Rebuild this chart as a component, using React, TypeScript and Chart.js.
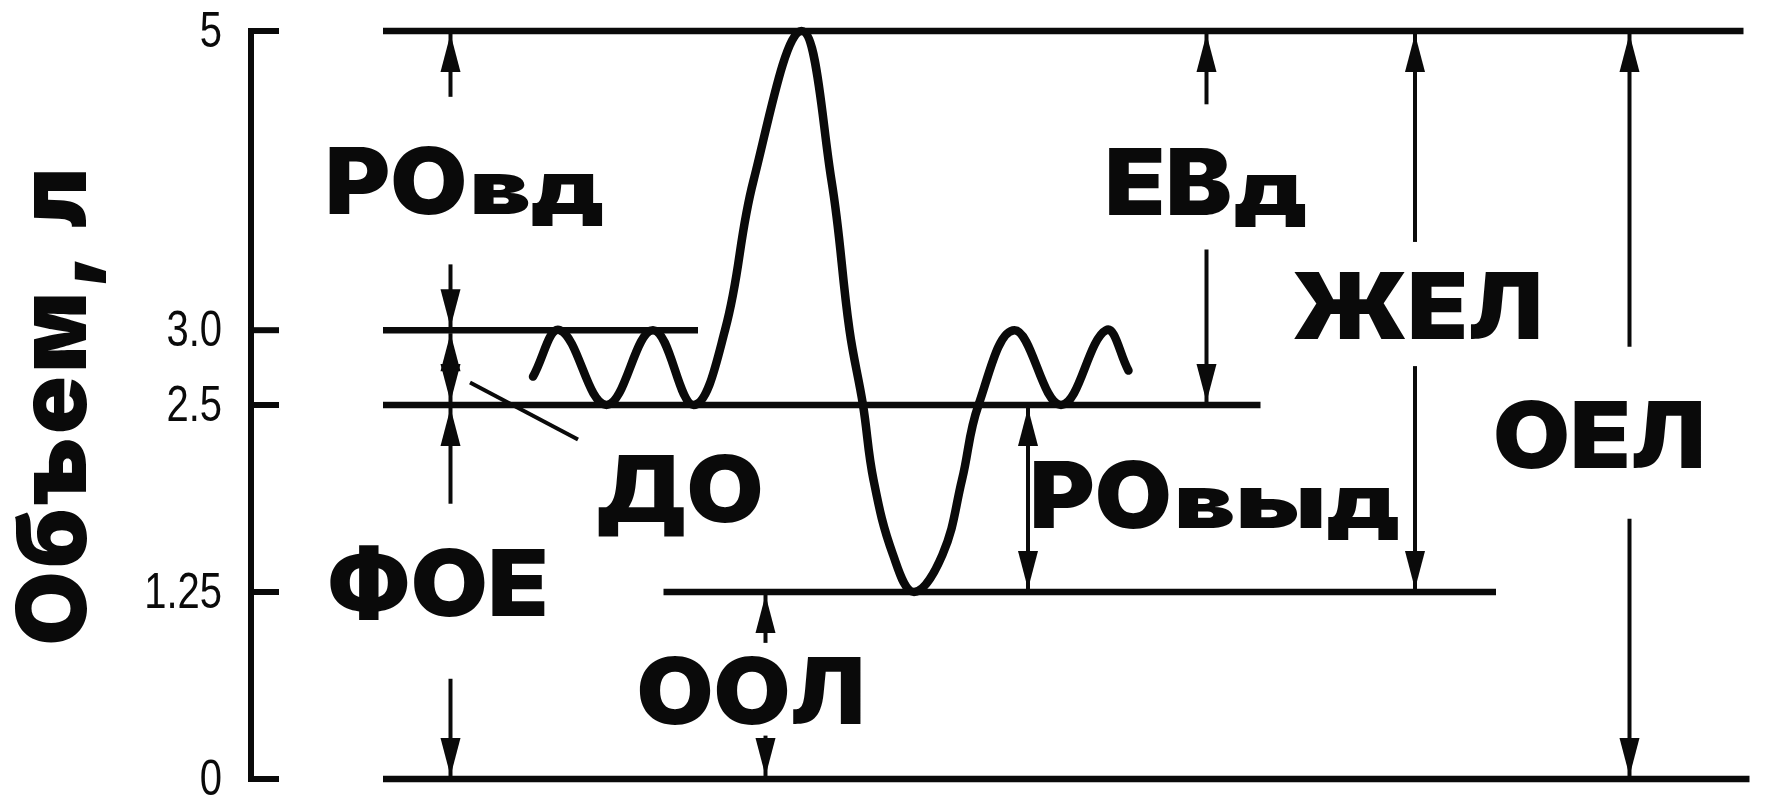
import React, { useEffect, useRef } from "react";
import { Chart, registerables } from "chart.js";

Chart.register(...registerables);

// Y axis ticks (lung volume, litres)
const tickValues = [0, 1.25, 2.5, 3.0, 5];
const tickLabels = ["0", "1.25", "2.5", "3.0", "5"];

// Horizontal level lines
const levelValues = [5, 3.0, 2.5, 1.25, 0];
const levelStart = [8.8, 8.8, 8.8, 27.5, 8.8];
const levelEnd = [99.5, 29.8, 67.3, 83.0, 99.9];

// Spirogram curve (time units, volume)
const curveX = [18.8, 20.6, 23.7, 26.8, 29.5, 31.6, 33.5, 36.7, 38.7, 39.9, 40.8, 41.5, 42.8, 44.2, 46.1, 47.4, 48.5, 50.9, 54.0, 57.0, 58.5];
const curveY = [2.69, 3.0, 2.5, 3.0, 2.5, 3.0, 4.0, 5.0, 4.0, 3.0, 2.5, 2.0, 1.5, 1.25, 1.5, 2.0, 2.5, 3.0, 2.5, 3.0, 2.73];

// Pointer line for "ДО"
const pointerX = [14.6, 21.8];
const pointerY = [2.65, 2.27];

// Arrows: x position, tail value, head value, double-headed
const arrowX = [13.3, 13.3, 13.3, 13.3, 13.3, 34.3, 34.3, 51.8, 63.7, 63.7, 77.6, 77.6, 91.9, 91.9];
const arrowTail = [4.56, 3.44, 2.5, 1.84, 0.67, 0.91, 0.29, 1.25, 4.51, 3.54, 3.59, 2.76, 2.89, 1.74];
const arrowHead = [5, 3.0, 3.0, 2.5, 0, 1.25, 0, 2.5, 5, 2.5, 5, 1.25, 5, 0];
const arrowBoth = [false, false, true, false, false, false, false, true, false, false, false, false, false, false];

// Labels
const labelMain = ["РО", "ЕВ", "ЖЕЛ", "ДО", "РО", "ОЕЛ", "ФОЕ", "ООЛ"];
const labelSub = ["вд", "д", "", "", "выд", "", "", ""];
const labelX = [4.93, 56.9, 69.4, 23.0, 51.9, 82.8, 5.07, 25.7];
const labelY = [3.78, 3.77, 2.94, 1.72, 1.68, 2.08, 1.09, 0.37];

const INK = "#0a0a0a";
const HEAVY = "Inter, 'DejaVu Sans', sans-serif";
const TICKFONT = "'Liberation Sans', Arial, sans-serif";

const spacingPlugin = {
  id: "titleSpacing",
  beforeDraw(chart: any) {
    chart.ctx.letterSpacing = "3px";
  },
  afterDraw(chart: any) {
    chart.ctx.letterSpacing = "0px";
  },
};

const overlayPlugin = {
  id: "spiroOverlay",
  afterDatasetsDraw(chart: any) {
    const { ctx, scales, chartArea } = chart;
    const xs = scales.x;
    const ys = scales.y;
    ctx.save();
    ctx.letterSpacing = "0px";
    ctx.strokeStyle = INK;
    ctx.fillStyle = INK;

    // inward tick marks on the axis
    ctx.lineWidth = 6;
    ctx.lineCap = "butt";
    tickValues.forEach((v) => {
      const py = ys.getPixelForValue(v);
      ctx.beginPath();
      ctx.moveTo(chartArea.left - 3, py);
      ctx.lineTo(chartArea.left + 28, py);
      ctx.stroke();
    });

    // tick labels (narrow grotesque)
    ctx.textAlign = "right";
    ctx.textBaseline = "middle";
    ctx.font = `50px ${TICKFONT}`;
    tickValues.forEach((v, i) => {
      const py = ys.getPixelForValue(v);
      ctx.save();
      ctx.translate(chartArea.left - 29, py + 2);
      ctx.scale(0.8, 1);
      ctx.fillText(tickLabels[i], 0, 0);
      ctx.restore();
    });

    // arrows
    const headLen = 38;
    const headHalf = 10;
    const drawHead = (px: number, tipY: number, dir: number) => {
      // dir = -1 pointing up, +1 pointing down
      ctx.beginPath();
      ctx.moveTo(px, tipY);
      ctx.lineTo(px - headHalf, tipY - dir * headLen);
      ctx.lineTo(px + headHalf, tipY - dir * headLen);
      ctx.closePath();
      ctx.fill();
    };
    arrowX.forEach((ax, i) => {
      const px = xs.getPixelForValue(ax);
      const tailPx = ys.getPixelForValue(arrowTail[i]);
      const headPx = ys.getPixelForValue(arrowHead[i]);
      const dir = headPx < tailPx ? -1 : 1;
      const tip = headPx - dir * 3;
      ctx.lineWidth = 4;
      ctx.beginPath();
      if (arrowBoth[i]) {
        const tip2 = tailPx + dir * 3;
        ctx.moveTo(px, tip2);
        ctx.lineTo(px, tip);
        ctx.stroke();
        drawHead(px, tip, dir);
        drawHead(px, tip2, -dir);
      } else {
        ctx.moveTo(px, tailPx);
        ctx.lineTo(px, tip);
        ctx.stroke();
        drawHead(px, tip, dir);
      }
    });

    // labels
    ctx.textAlign = "left";
    ctx.textBaseline = "alphabetic";
    const mainStretch = 1.08;
    const subStretch = 1.42;
    labelMain.forEach((m, i) => {
      const px = xs.getPixelForValue(labelX[i]);
      const py = ys.getPixelForValue(labelY[i]);
      ctx.save();
      ctx.font = `900 92px ${HEAVY}`;
      ctx.translate(px, py);
      ctx.scale(mainStretch, 1);
      ctx.fillText(m, 0, 0);
      const w = ctx.measureText(m).width * mainStretch;
      ctx.restore();
      if (labelSub[i]) {
        ctx.save();
        ctx.font = `900 74px ${HEAVY}`;
        ctx.translate(px + w + 2, py);
        ctx.scale(subStretch, 1);
        ctx.fillText(labelSub[i], 0, 0);
        ctx.restore();
      }
    });
    ctx.restore();
  },
};

export default function App() {
  const canvasRef = useRef<HTMLCanvasElement | null>(null);

  useEffect(() => {
    const canvas = canvasRef.current;
    if (!canvas) return;

    const lineDs = (data: { x: number; y: number }[], width: number, extra: any = {}) => ({
      data,
      borderColor: INK,
      backgroundColor: INK,
      borderWidth: width,
      pointRadius: 0,
      pointHoverRadius: 0,
      fill: false,
      clip: false as any,
      borderCapStyle: "butt",
      tension: 0,
      ...extra,
    });

    const datasets: any[] = [];
    levelValues.forEach((v, i) => {
      datasets.push(lineDs([{ x: levelStart[i], y: v }, { x: levelEnd[i], y: v }], 6.5));
    });
    datasets.push(
      lineDs(
        curveX.map((x, i) => ({ x, y: curveY[i] })),
        8.5,
        { tension: 0.4, borderCapStyle: "round", borderJoinStyle: "round" }
      )
    );
    datasets.push(lineDs(pointerX.map((x, i) => ({ x, y: pointerY[i] })), 4));

    const chart = new Chart(canvas, {
      type: "line",
      data: { datasets },
      options: {
        animation: false,
        responsive: false,
        maintainAspectRatio: false,
        events: [],
        layout: { padding: { left: 0, top: 31, right: 15, bottom: 19 } },
        plugins: {
          legend: { display: false },
          tooltip: { enabled: false },
          title: { display: false },
        },
        scales: {
          x: {
            type: "linear",
            min: 0,
            max: 100,
            display: false,
          },
          y: {
            type: "linear",
            min: 0,
            max: 5,
            afterFit: (scale: any) => {
              scale.width = 251;
              scale.paddingTop = 0;
              scale.paddingBottom = 0;
            },
            afterBuildTicks: (scale: any) => {
              scale.ticks = tickValues.map((v) => ({ value: v }));
            },
            ticks: {
              display: false,
              autoSkip: false,
            },
            grid: { display: true, drawOnChartArea: false, drawTicks: false, color: INK },
            border: { display: true, color: INK, width: 6 },
            title: {
              display: true,
              text: "Объем, л",
              color: INK,
              padding: { top: 0, bottom: 0 },
              font: { family: HEAVY, size: 96, weight: "900" },
            },
          },
        },
      },
      plugins: [spacingPlugin, overlayPlugin],
    } as any);

    return () => chart.destroy();
  }, []);

  return (
    <div style={{ position: "fixed", left: 0, top: 0, width: 1766, height: 798, background: "#ffffff" }}>
      <canvas ref={canvasRef} width={1766} height={798} style={{ display: "block", width: 1766, height: 798 }} />
    </div>
  );
}
